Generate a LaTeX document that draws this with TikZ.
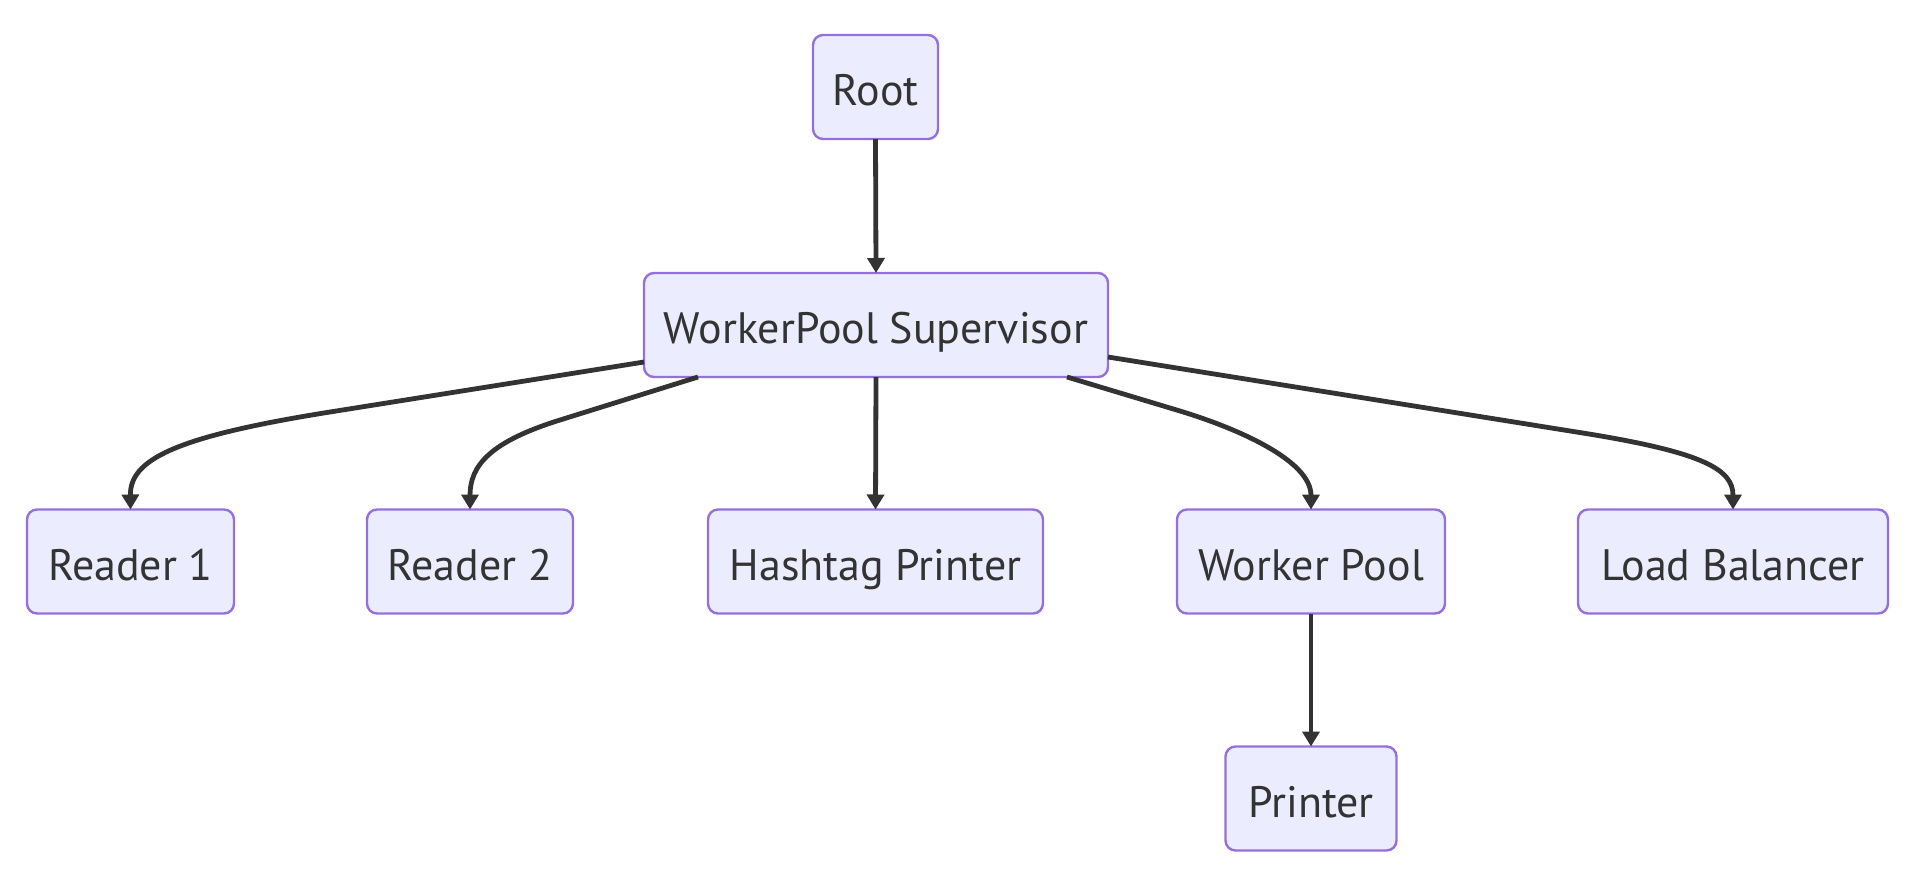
\documentclass[tikz,border=0pt]{standalone}
\usepackage{fontspec}
\setmainfont{PT Sans}
\usetikzlibrary{arrows.meta,calc}
\definecolor{nodefill}{HTML}{ECECFF}
\definecolor{nodeline}{HTML}{9370DB}
\definecolor{edgecol}{HTML}{333333}
\begin{document}
\begin{tikzpicture}[x=1pt,y=-1pt,
  box/.style={draw=nodeline,fill=nodefill,line width=2.4pt,rounded corners=10pt,
    minimum height=104pt,inner sep=0pt,outer sep=0pt,text=edgecol,
    text height=46pt,text depth=9pt,
    font=\fontsize{44}{52}\selectfont},
  edge/.style={draw=edgecol,line width=4.8pt,-{Triangle[length=15pt,width=17pt]}}]
\useasboundingbox (0,0) rectangle (1917,884);
\node[box,minimum width=125pt] (root) at (875.5,87) {Root};
\node[box,minimum width=464pt] (sup) at (876,325) {WorkerPool Supervisor};
\node[box,minimum width=207pt] (r1) at (130.5,561.5) {Reader 1};
\node[box,minimum width=206pt] (r2) at (470,561.5) {Reader 2};
\node[box,minimum width=335pt] (hp) at (875.5,561.5) {Hashtag Printer};
\node[box,minimum width=268pt] (wp) at (1311,561.5) {Worker Pool};
\node[box,minimum width=310pt] (lb) at (1733,561.5) {Load Balancer};
\node[box,minimum width=171pt] (pr) at (1311,798.5) {Printer};
\draw[edge] (root.south) -- (sup.north);
\draw[edge] ([yshift=-37pt]sup.west) -- (330,412) .. controls (173,437) and (130,460) .. (r1.north);
\draw[edge] ([xshift=-178pt]sup.south) -- (560,420) .. controls (491,441.5) and (470,465) .. (r2.north);
\draw[edge] (sup.south) -- (hp.north);
\draw[edge] ([xshift=191pt]sup.south) -- (1180,411) .. controls (1236,428) and (1311,460) .. (wp.north);
\draw[edge] ([yshift=-32pt]sup.east) -- (1589,434) .. controls (1705,453) and (1733,470) .. (lb.north);
\draw[edge] (wp.south) -- (pr.north);
\end{tikzpicture}
\end{document}
